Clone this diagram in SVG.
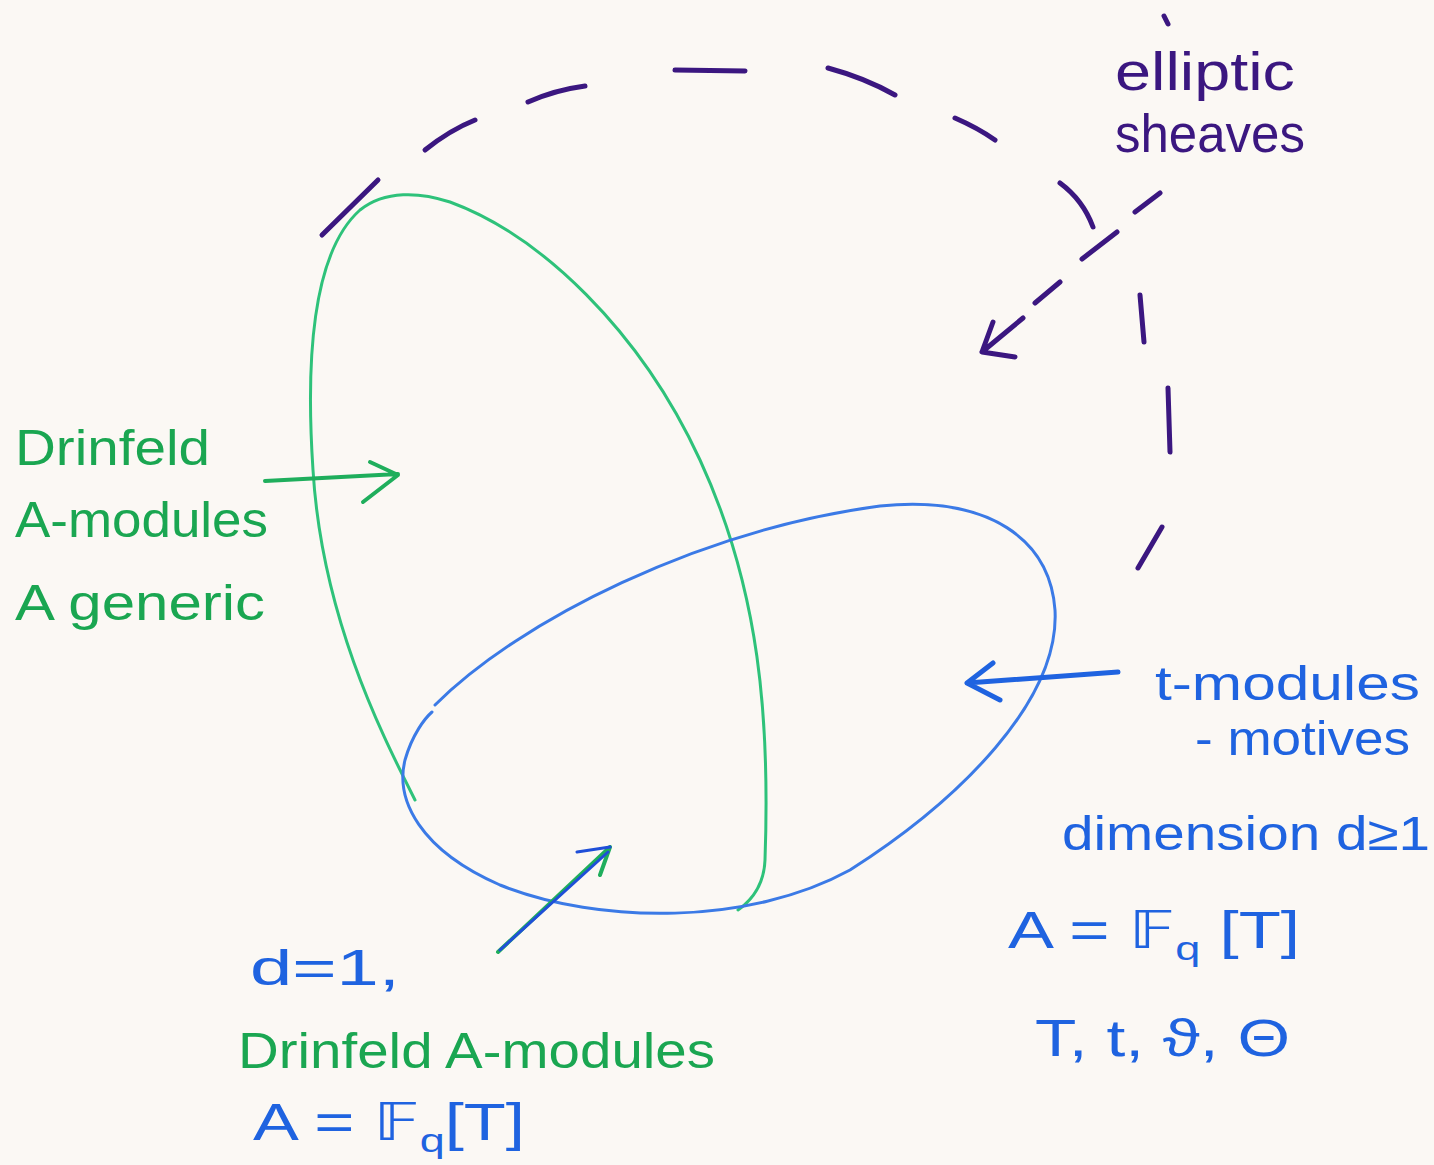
<svg xmlns="http://www.w3.org/2000/svg" width="1434" height="1165" viewBox="0 0 1434 1165">
<style>
.g{fill:#1aa651;font-family:"Liberation Sans","DejaVu Sans",sans-serif}
.b{fill:#1f63e0;font-family:"Liberation Sans","DejaVu Sans",sans-serif}
.p{fill:#3b1780;font-family:"Liberation Sans","DejaVu Sans",sans-serif}
.sg{fill:none;stroke:#2ec27a;stroke-width:3;stroke-linecap:round}
.sb{fill:none;stroke:#3b7ae6;stroke-width:3;stroke-linecap:round}
.sp{fill:none;stroke:#3b1780;stroke-width:5;stroke-linecap:round;stroke-linejoin:round}
.ag{fill:none;stroke:#1fae5c;stroke-width:4;stroke-linecap:round;stroke-linejoin:round}
.ab{fill:none;stroke:#1f63e0;stroke-width:5;stroke-linecap:round;stroke-linejoin:round}
</style>
<rect width="1434" height="1165" fill="#fbf8f4"/>
<g id="elliptic-sheaves-arc">
<path class="sp" d="M322 235 L378 180"/>
<path class="sp" d="M425 150 Q450 130 475 120"/>
<path class="sp" d="M528 102 Q555 90 585 86"/>
<path class="sp" d="M675 70 L745 71"/>
<path class="sp" d="M828 68 Q865 78 895 95"/>
<path class="sp" d="M955 118 Q978 128 995 140"/>
<path class="sp" d="M1060 183 Q1083 200 1093 227"/>
<path class="sp" d="M1140 295 L1144 342"/>
<path class="sp" d="M1168 388 L1170 452"/>
<path class="sp" d="M1162 527 L1138 568"/>
<path class="sp" d="M1164 16 L1168 24"/>
</g>
<g id="drinfeld-generic">
<path class="sg" d="M415 800 C385 740 322 620 313 470 C305 350 315 250 360 210 C385 190 420 192 450 202 C540 235 640 330 700 460 C760 590 770 720 765 860 C764 885 752 900 738 910"/>
</g>
<g id="t-modules">
<path class="sb" d="M435 705 C520 620 700 530 880 506 C990 495 1050 540 1055 610 C1060 700 960 800 850 870 C750 925 600 925 500 885 C420 850 395 800 405 760 C412 735 425 718 432 712"/>
</g>
<g id="connectors">
<path class="ag" d="M265 481 L398 474 M370 462 L398 475 L363 502"/>
<path class="ab" d="M1118 672 L967 683 M993 663 L967 683 L1000 700"/>
<path class="ag" d="M498 952 L610 847 M600 875 L610 847"/>
<path d="M500 950 L608 852 M577 852 L610 847" fill="none" stroke="#1f4fd8" stroke-width="3" stroke-linecap="round"/>
<path class="sp" d="M1160 193 L1135 212 M1117 232 L1082 259 M1060 282 L1035 303 M1023 318 L982 352 L1015 357 M982 352 L993 322"/>
</g>
<g id="label-drinfeld-generic">
<text class="g" x="15" y="465" font-size="50" textLength="195" lengthAdjust="spacingAndGlyphs">Drinfeld</text>
<text class="g" x="15" y="537" font-size="50" textLength="253" lengthAdjust="spacingAndGlyphs">A-modules</text>
<text class="g" x="15" y="620" font-size="50" textLength="250" lengthAdjust="spacingAndGlyphs">A generic</text>
</g>
<g id="label-elliptic">
<text class="p" x="1115" y="90" font-size="54" textLength="180" lengthAdjust="spacingAndGlyphs">elliptic</text>
<text class="p" x="1115" y="152" font-size="54" textLength="190" lengthAdjust="spacingAndGlyphs">sheaves</text>
</g>
<g id="label-t-modules">
<text class="b" x="1155" y="700" font-size="48" textLength="265" lengthAdjust="spacingAndGlyphs">t-modules</text>
<text class="b" x="1195" y="755" font-size="48" textLength="215" lengthAdjust="spacingAndGlyphs">- motives</text>
<text class="b" x="1062" y="850" font-size="48" textLength="368" lengthAdjust="spacingAndGlyphs">dimension d≥1</text>
<text class="b" x="1008" y="948" font-size="52" textLength="292" lengthAdjust="spacingAndGlyphs">A = 𝔽<tspan font-size="34" dy="12">q</tspan><tspan dy="-12"> [T]</tspan></text>
<text class="b" x="1035" y="1056" font-size="52" textLength="255" lengthAdjust="spacingAndGlyphs">T, t, ϑ, Θ</text>
</g>
<g id="label-d1">
<text class="b" x="250" y="985" font-size="50" textLength="150" lengthAdjust="spacingAndGlyphs">d=1,</text>
<text class="g" x="238" y="1068" font-size="50" textLength="477" lengthAdjust="spacingAndGlyphs">Drinfeld A-modules</text>
<text class="b" x="253" y="1140" font-size="52" textLength="272" lengthAdjust="spacingAndGlyphs">A = 𝔽<tspan font-size="34" dy="12">q</tspan><tspan dy="-12">[T]</tspan></text>
</g>
</svg>
